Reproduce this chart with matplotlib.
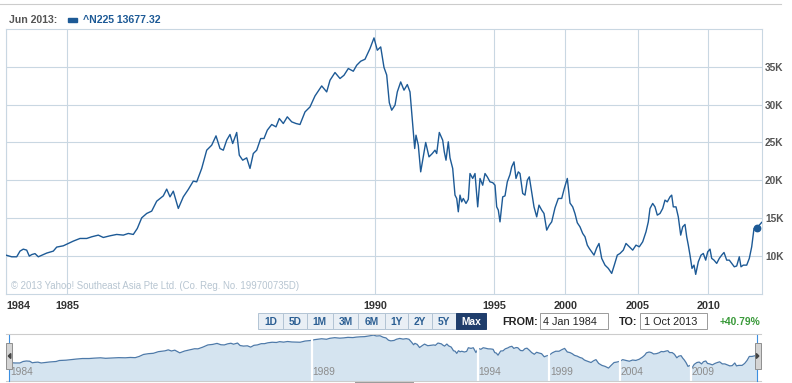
#!/usr/bin/env python3
"""
Nikkei 225 (^N225) long-run chart, Yahoo! Finance style
"""

import matplotlib
matplotlib.use('Agg')
import matplotlib.pyplot as plt
from matplotlib.patches import Rectangle, Polygon
from matplotlib.ticker import FuncFormatter

plt.rcParams['font.family'] = ['Liberation Sans', 'DejaVu Sans']

# position of each observation along the (compressed) session axis
obs_pos = [6, 11.7, 16.7, 20, 23.3, 26.7, 29.3, 31.7, 35, 38.3, 43.3, 46.7, 53.3, 56.7,
           63.3, 68.3, 73.3, 80, 86.7, 91.7, 98.3, 103.3, 110, 116.7, 123.3, 128.3,
           133.3, 137.3, 141.7, 146.7, 151.7, 156.7, 163.3, 166.7, 170, 173.3, 178.3,
           183.3, 188.3, 193.3, 196.7, 201.7, 206.7, 211.7, 216, 220, 223.3, 226.7,
           230, 232.7, 236.7, 239.3, 242.7, 246.7, 250, 253.3, 256.7, 260.7, 264,
           267.3, 271.7, 276, 279.3, 283.3, 287.3, 291.7, 296, 300, 305, 310, 315,
           321.7, 326.7, 330, 335, 340, 344, 348.3, 353.3, 356.7, 360.7, 365, 370,
           374, 377.3, 380.7, 384, 386.7, 389.3, 391.7, 395, 397.3, 400.7, 404,
           407.3, 410, 412.7, 414.7, 416, 418.3, 420.7, 422.7, 425.7, 429, 432.3,
           435, 436.7, 439.3, 442.7, 444.3, 446, 448.3, 450, 452.7, 455, 456.7,
           458.3, 460, 461.7, 463.3, 466, 468.3, 470, 472.7, 475, 477.7, 480, 482.7,
           485, 487.3, 490, 492.7, 495, 496.7, 498.3, 500, 502.7, 505, 507.3, 510,
           511.7, 514, 516, 518.3, 520, 522.7, 525, 527.3, 529.3, 531.7, 534, 536.7,
           539, 541.7, 544, 546.7, 549.3, 551.7, 555, 558.3, 561.7, 564.3, 567.3,
           570, 572.7, 575, 577.3, 580, 582.7, 585, 587.3, 589.3, 591.7, 594, 596.7,
           599, 601.7, 605, 608.3, 611.7, 614.3, 617.3, 620, 623.3, 626, 629.3,
           632.7, 636, 639.3, 642.7, 646, 648.3, 650, 652.7, 655, 657.3, 660, 662.7,
           665, 667.3, 670, 671.7, 673.3, 676, 678.3, 680.7, 682.7, 685, 686.7,
           688.3, 690, 692, 694, 695.7, 698.3, 701, 703.3, 705.7, 707.7, 710, 711.7,
           714, 716.7, 719.3, 721.7, 724, 726.7, 729.3, 731.7, 734.3, 736.7, 739.3,
           741, 743.3, 746.7, 749.3, 751.7, 754, 756.7, 759.3, 761.7]

nikkei = [10130, 9910, 9910, 10660, 10920, 10790, 10000, 10200, 10330, 9910, 10200, 10400,
          10660, 11190, 11360, 11670, 11980, 12330, 12330, 12550, 12770, 12460, 12680,
          12860, 12770, 12990, 12860, 13650, 15050, 15630, 15940, 17250, 17950, 18840,
          17820, 18570, 16290, 17820, 18800, 19900, 19800, 21570, 23980, 24640, 25870,
          24200, 23980, 25300, 26050, 24860, 26320, 23320, 22660, 22970, 21570, 23540,
          23980, 25520, 25520, 26620, 27370, 27060, 28160, 27500, 28380, 27720, 27500,
          27370, 29030, 29690, 31140, 32460, 31670, 33210, 34230, 33440, 33870, 34760,
          34400, 35190, 35720, 35980, 37400, 38800, 37170, 37610, 34900, 33900, 30250,
          29260, 29920, 31670, 32990, 31900, 32640, 31670, 27280, 24200, 25960, 24640,
          21120, 22660, 25000, 23100, 23540, 23980, 23540, 26320, 25300, 23760, 22660,
          25080, 22970, 21570, 18050, 17610, 15850, 18050, 17160, 17610, 16950, 17500,
          20900, 20250, 20900, 16500, 20250, 19360, 20900, 20460, 19800, 19700, 19360,
          16500, 16070, 14520, 17820, 17950, 19800, 20770, 21780, 22440, 20250, 21120,
          20900, 18270, 18050, 20020, 20460, 18480, 16500, 15180, 16730, 16070, 15630,
          13430, 14090, 14520, 16370, 17610, 17610, 18930, 20250, 17000, 16500, 15600,
          14400, 13860, 12990, 12550, 11450, 11010, 10570, 10130, 11090, 11670, 9700,
          8810, 8380, 7720, 8810, 10130, 10350, 10790, 11670, 11230, 10790, 11450,
          11230, 11890, 13210, 14520, 16290, 16950, 16500, 15410, 15630, 16290, 17390,
          17160, 17820, 18050, 16500, 16500, 15180, 12770, 13860, 14180, 12550, 11450,
          10130, 8380, 8810, 7590, 9250, 10130, 10350, 9470, 10570, 10920, 9700, 9470,
          9040, 9700, 10130, 10480, 9470, 9470, 9040, 8590, 8700, 9910, 8590, 8810,
          8810, 9700, 11230, 13650, 13650, 14090, 14450]

# year grid on the main chart
year_labels = ['1984', '1985', '1990', '1995', '2000', '2005', '2010']
year_pos = [6, 67.3, 375, 494.3, 565.3, 637.7, 708.3]
price_ticks = [10000, 15000, 20000, 25000, 30000, 35000]

# year separators on the navigator
nav_labels = ['1984', '1989', '1994', '1999', '2004', '2009']
nav_pos = [6, 311.6, 479.7, 551.8, 622.9, 695.1]

# highlighted point (Jun 2013)
last_pos = 756.7
last_close = 13677.32

range_buttons = ['1D', '5D', '1M', '3M', '6M', '1Y', '2Y', '5Y', 'Max']
date_from = '4 Jan 1984'
date_to = '1 Oct 2013'
pct_change = '+40.79%'

LINE = '#1d5a96'
GRID = '#c9d7e2'
W, H = 792, 383


def axes_rect(x0, y0, x1, y1):
    """pixel box (top-left origin) -> figure fraction rect"""
    return [x0 / W, 1 - y1 / H, (x1 - x0) / W, (y1 - y0) / H]


def draw_main(fig):
    ax = fig.add_axes(axes_rect(6, 28.8, 761.5, 294))
    ax.plot(obs_pos, nikkei, color=LINE, lw=1.0, zorder=3)
    ax.plot([last_pos], [last_close], 'o', color=LINE, ms=4.6, zorder=4)
    ax.set_xlim(6, 761.5)
    ax.set_ylim(5000, 40000)

    ax.set_yticks(price_ticks)
    ax.yaxis.tick_right()
    ax.yaxis.set_major_formatter(FuncFormatter(lambda v, p: f'{int(v / 1000)}K'))
    ax.tick_params(axis='y', length=0, pad=2.6, labelsize=7.3, labelcolor='#555555')
    for t in ax.get_yticklabels():
        t.set_fontweight('bold')

    ax.set_xticks(year_pos)
    ax.set_xticklabels(year_labels, fontsize=7.8, fontweight='bold', color='#333333')
    ax.tick_params(axis='x', length=0, pad=5.0)
    ax.get_xticklabels()[0].set_horizontalalignment('left')

    ax.grid(True, color=GRID, lw=0.8)
    ax.set_axisbelow(True)
    for s in ax.spines.values():
        s.set_color(GRID)
        s.set_linewidth(0.8)

    ax.text(4.7 / 755.5, (294 - 286) / 265.2,
            '\u00a9 2013 Yahoo! Southeast Asia Pte Ltd. (Co. Reg. No. 199700735D)',
            transform=ax.transAxes, fontsize=6.9, color='#b7c5d1', va='center', ha='left')
    return ax


def draw_navigator(fig, ui):
    nav = fig.add_axes(axes_rect(6, 334.5, 761.5, 380.5))
    nav.set_yscale('log')
    nav.fill_between(obs_pos, nikkei, 1000, color='#d5e4f0', lw=0)
    nav.plot(obs_pos, nikkei, color='#4e7aa9', lw=0.9)
    nav.set_xlim(2.7, 766.3)
    nav.set_ylim(4200, 40000)
    nav.set_xticks([])
    nav.set_yticks([])
    nav.minorticks_off()
    for s in nav.spines.values():
        s.set_visible(False)
    for p, lab in zip(nav_pos, nav_labels):
        if p > 10:
            nav.axvline(p, color='white', lw=1.6)
        nav.text(p + 0.8, 0.18, lab, transform=nav.get_xaxis_transform(),
                 fontsize=7.4, color='#8c8c8c', ha='left', va='center')

    # frame lines and handles drawn in pixel space (ui layer sits on top)
    ui.plot([6, 761], [334.3, 334.3], color='#cccccc', lw=0.8)
    ui.plot([6, 761], [380.8, 380.8], color='#cccccc', lw=0.8)
    for hx in (9.3, 757):
        ui.plot([hx, hx], [334.5, 380.5], color='#3c8fe0', lw=0.8)
    for x0, pts in ((6, [(10.8, 353.5), (10.8, 358.5), (8.3, 356)]),
                    (754.7, [(756.3, 353.5), (756.3, 358.5), (758.8, 356)])):
        ui.add_patch(Rectangle((x0, 343), 6, 26, facecolor='#d4d4d4',
                               edgecolor='#8f8f8f', lw=0.7, zorder=5))
        ui.add_patch(Polygon(pts, closed=True, color='#444444', zorder=6))
    ui.add_patch(Rectangle((355, 381.5), 59, 1.5, facecolor='#9a9a9a', lw=0))


def draw_controls(ui):
    # header
    ui.plot([0, 781], [4.3, 4.3], color='#cccccc', lw=0.8)
    ui.text(9.3, 19.8, 'Jun 2013:', fontsize=7.6, fontweight='bold',
            color='#555555', va='center')
    ui.add_patch(Rectangle((68.3, 17.6), 9, 4, color=LINE))
    ui.text(82.7, 19.8, f'^N225 {last_close:.2f}', fontsize=7.6, fontweight='bold',
            color=LINE, va='center')

    # range buttons
    edges = [258.3, 282.7, 306.7, 332.7, 358.3, 385, 408, 432, 456.3, 486.3]
    for i, lab in enumerate(range_buttons):
        active = lab == 'Max'
        x0, x1 = edges[i], edges[i + 1]
        ui.add_patch(Rectangle((x0, 313.3), x1 - x0, 16,
                               facecolor='#1f3d6b' if active else '#e9eff5',
                               edgecolor='#1f3d6b' if active else '#b3c4d4', lw=0.7))
        ui.text((x0 + x1) / 2, 321.6, lab, fontsize=7.4, fontweight='bold',
                color='white' if active else '#2c5f93', ha='center', va='center')

    # date range
    ui.text(538, 321.6, 'FROM:', fontsize=7.8, fontweight='bold', color='#222222',
            ha='right', va='center')
    ui.add_patch(Rectangle((540.3, 313.3), 67.7, 16, facecolor='white',
                           edgecolor='#9a9a9a', lw=0.7))
    ui.text(543, 321.6, date_from, fontsize=7.8, color='#222222', va='center')
    ui.text(637.7, 321.6, 'TO:', fontsize=7.8, fontweight='bold', color='#222222',
            ha='right', va='center')
    ui.add_patch(Rectangle((640.3, 313.3), 66.7, 16, facecolor='white',
                           edgecolor='#9a9a9a', lw=0.7))
    ui.text(643.5, 321.6, date_to, fontsize=7.8, color='#222222', va='center')
    ui.text(760.3, 321.6, pct_change, fontsize=7.4, fontweight='bold',
            color='#3a9a3a', ha='right', va='center')


if __name__ == "__main__":
    fig = plt.figure(figsize=(W / 100, H / 100), dpi=100)
    ui = fig.add_axes([0, 0, 1, 1])
    ui.set_xlim(0, W)
    ui.set_ylim(H, 0)
    ui.axis('off')
    ui.set_zorder(10)

    draw_main(fig)
    draw_navigator(fig, ui)
    draw_controls(ui)

    fig.savefig('out.png', dpi=100)
